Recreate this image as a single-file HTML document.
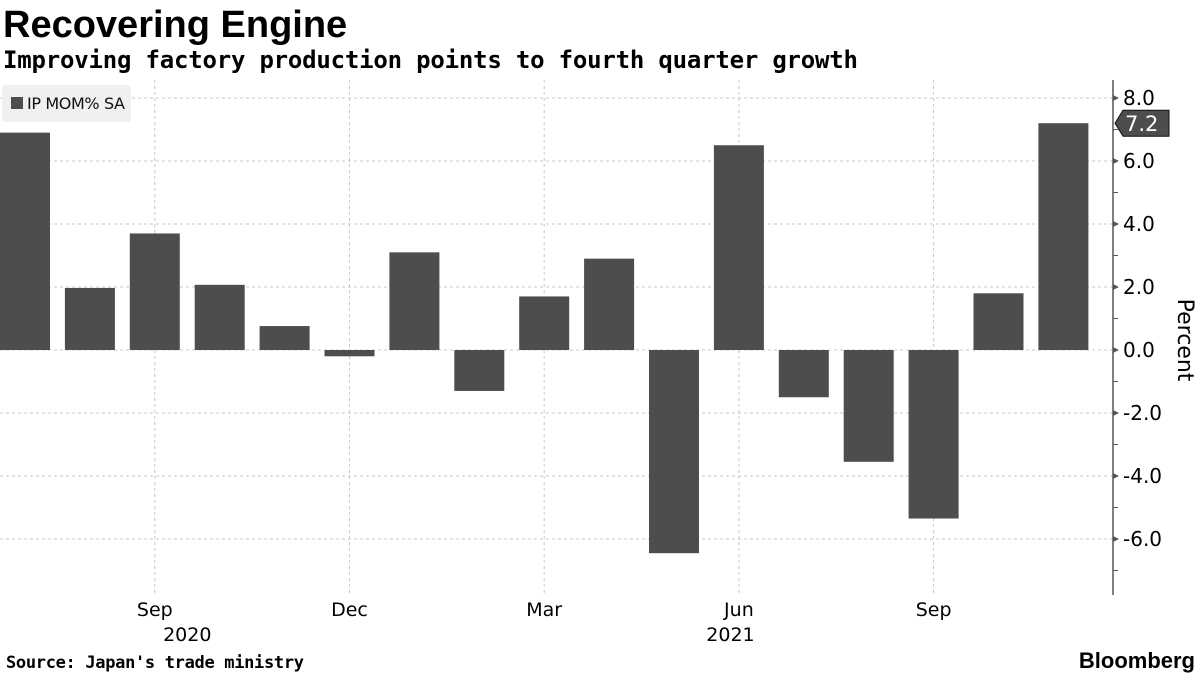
<!DOCTYPE html>
<html><head><meta charset="utf-8"><style>
body{margin:0;width:1200px;height:675px;background:#fff;overflow:hidden;font-family:"DejaVu Sans","Liberation Sans",sans-serif;}
svg{position:absolute;left:0;top:0}
</style></head><body>
<svg width="1200" height="675">
<text x="3" y="37" font-size="38" font-weight="bold" fill="#000" font-family="Liberation Sans, sans-serif">Recovering Engine</text>
<text x="3" y="68" font-size="24" font-weight="bold" fill="#000" textLength="855" font-family="DejaVu Sans Mono, Liberation Mono, monospace">Improving factory production points to fourth quarter growth</text>
<g id="grid"></g>
<g id="bars"></g>
<g id="axis"></g>
<g id="xaxis"></g>
<rect x="2" y="85" width="129" height="37" fill="#f0f0f0" rx="3"/>
<rect x="11" y="97" width="12" height="12" fill="#4d4d4d"/>
<text x="27" y="109" font-size="16" fill="#111" textLength="98">IP MOM% SA</text>
<text transform="translate(1178,340) rotate(90)" font-size="22" text-anchor="middle" fill="#000">Percent</text>
<text x="6" y="668" font-size="17" font-weight="bold" fill="#000" textLength="298" font-family="DejaVu Sans Mono, Liberation Mono, monospace">Source: Japan's trade ministry</text>
<text x="1195" y="668" font-size="22" font-weight="bold" text-anchor="end" fill="#000" font-family="Liberation Sans, sans-serif">Bloomberg</text>
</svg>
<script>
const categories=["Jul 2020","Aug 2020","Sep 2020","Oct 2020","Nov 2020","Dec 2020","Jan 2021","Feb 2021","Mar 2021","Apr 2021","May 2021","Jun 2021","Jul 2021","Aug 2021","Sep 2021","Oct 2021","Nov 2021"];
const values=[6.9,1.97,3.7,2.07,0.76,-0.2,3.1,-1.3,1.7,2.9,-6.45,6.5,-1.5,-3.55,-5.35,1.8,7.2];
const yTicks=[8,6,4,2,0,-2,-4,-6];
const xLabels=[{i:2,t:"Sep"},{i:5,t:"Dec"},{i:8,t:"Mar"},{i:11,t:"Jun"},{i:14,t:"Sep"}];
const yearLabels=[{i:2.5,t:"2020"},{i:10.87,t:"2021"}];
const NS="http://www.w3.org/2000/svg";
const y0=350,k=31.5,x0=25,dx=64.9,bw=50,axX=1113;
const Y=v=>y0-v*k, X=i=>x0+i*dx;
function mk(tag,a,p){const e=document.createElementNS(NS,tag);for(const n in a)e.setAttribute(n,a[n]);p.appendChild(e);return e;}
const grid=document.getElementById('grid'),bars=document.getElementById('bars'),ax=document.getElementById('axis'),xa=document.getElementById('xaxis');
yTicks.forEach(v=>{
 const l=mk('line',{x1:0,x2:axX,y1:Y(v),y2:Y(v),stroke:'#c8c8c8','stroke-dasharray':'3,3'},grid);
 
 
 const tk=mk('path',{d:`M${axX} ${Y(v)-3}L${axX+6} ${Y(v)}L${axX} ${Y(v)+3}Z`,fill:'#555'},ax);
 
 
 const t=mk('text',{x:axX+10,y:Y(v)+7,'font-size':20,fill:'#000'},ax);t.textContent=v.toFixed(1);
 
 
});
[7,5,3,1,-1,-3,-5,-7].forEach(v=>{const m=mk('line',{x1:axX,x2:axX+5,y1:Y(v),y2:Y(v),stroke:'#555'},ax);
 
 });
xLabels.forEach(o=>{
 const l=mk('line',{x1:X(o.i),x2:X(o.i),y1:80,y2:595,stroke:'#c8c8c8','stroke-dasharray':'3,3'},grid);
 
 
 const t=mk('text',{x:X(o.i),y:616,'font-size':19,'text-anchor':'middle',fill:'#000'},xa);t.textContent=o.t;
 
 
});
yearLabels.forEach(o=>{
 const u=mk('text',{x:X(o.i),y:641,'font-size':19,'text-anchor':'middle',fill:'#000'},xa);u.textContent=o.t;
 
 
});
values.forEach((v,i)=>{
 const r=mk('rect',{x:X(i)-bw/2,y:Math.min(Y(v),y0),width:bw,height:Math.abs(Y(v)-y0),fill:'#4d4d4d'},bars);
 
 
});
const al=mk('line',{x1:axX,x2:axX,y1:80,y2:595,stroke:'#555','stroke-width':1.5},ax);


const last=values[values.length-1],ly=Y(last);
const tag=mk('path',{d:`M${axX+2} ${ly}L${axX+10} ${ly-13}L${axX+56} ${ly-13}L${axX+56} ${ly+13}L${axX+10} ${ly+13}Z`,fill:'#4d4d4d',stroke:'#111'},ax);


const tt=mk('text',{x:axX+12,y:ly+8,'font-size':21,fill:'#fff'},ax);tt.textContent=last.toFixed(1);


</script>
</body></html>
